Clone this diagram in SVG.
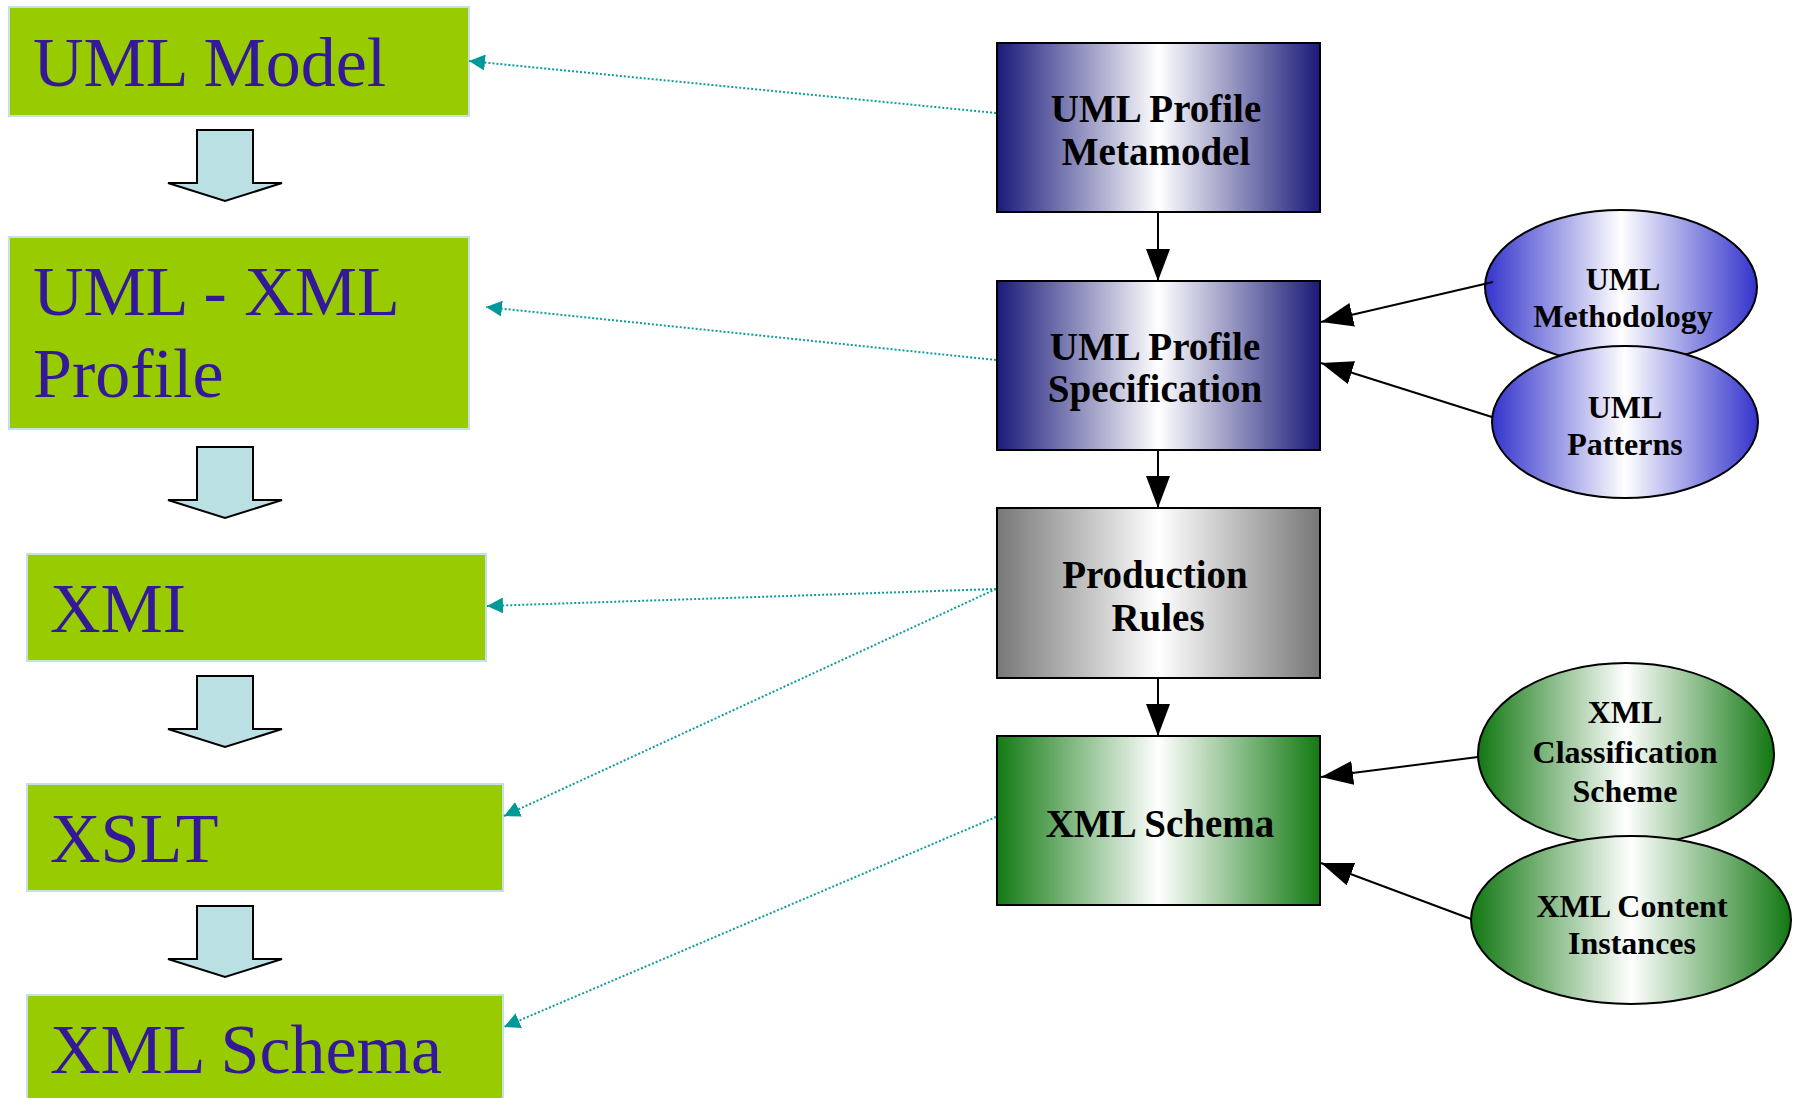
<svg xmlns="http://www.w3.org/2000/svg" width="1794" height="1098" viewBox="0 0 1794 1098">
<style>
  .lbox { fill: #99cc00; stroke: #c2e2e8; stroke-width: 2; }
  .ltxt { font-family: "Liberation Serif", "Times New Roman", serif; font-size: 70px; fill: #33199a; }
  .blk { fill: #bbe0e3; stroke: #000; stroke-width: 2; stroke-linejoin: miter; }
  .rbox { stroke: #000; stroke-width: 2; }
  .ell { stroke: #000; stroke-width: 2; }
  .btxt { font-family: "Liberation Serif", "Times New Roman", serif; font-weight: bold; font-size: 39px; fill: #000; text-anchor: middle; }
  .etxt { font-family: "Liberation Serif", "Times New Roman", serif; font-weight: bold; font-size: 32px; fill: #000; text-anchor: middle; }
  .solid { stroke: #000; stroke-width: 2; fill: none; marker-end: url(#ah); }
  .dot { stroke: #0f9c9c; stroke-width: 2; stroke-dasharray: 2 2; fill: none; marker-end: url(#th); }
</style>
<defs>
  <linearGradient id="gBlue" x1="0" y1="0" x2="1" y2="0">
    <stop offset="0" stop-color="#1a1a7a"/>
    <stop offset="0.5" stop-color="#ffffff"/>
    <stop offset="1" stop-color="#1a1a7a"/>
  </linearGradient>
  <linearGradient id="gGrey" x1="0" y1="0" x2="1" y2="0">
    <stop offset="0" stop-color="#777777"/>
    <stop offset="0.5" stop-color="#ffffff"/>
    <stop offset="1" stop-color="#777777"/>
  </linearGradient>
  <linearGradient id="gGreen" x1="0" y1="0" x2="1" y2="0">
    <stop offset="0" stop-color="#137a13"/>
    <stop offset="0.5" stop-color="#ffffff"/>
    <stop offset="1" stop-color="#137a13"/>
  </linearGradient>
  <linearGradient id="gEBlue" x1="0" y1="0" x2="1" y2="0">
    <stop offset="0" stop-color="#3333cc"/>
    <stop offset="0.5" stop-color="#ffffff"/>
    <stop offset="1" stop-color="#3333cc"/>
  </linearGradient>
  <linearGradient id="gEGreen" x1="0" y1="0" x2="1" y2="0">
    <stop offset="0" stop-color="#117711"/>
    <stop offset="0.5" stop-color="#ffffff"/>
    <stop offset="1" stop-color="#117711"/>
  </linearGradient>
  <marker id="ah" viewBox="0 0 32 24" refX="32" refY="12" markerWidth="32" markerHeight="24" markerUnits="userSpaceOnUse" orient="auto">
    <path d="M0,0 L32,12 L0,24 Z" fill="#000"/>
  </marker>
  <marker id="th" viewBox="0 0 16 16" refX="16" refY="8" markerWidth="16" markerHeight="16" markerUnits="userSpaceOnUse" orient="auto">
    <path d="M0,0 L16,8 L0,16 Z" fill="#009999"/>
  </marker>
</defs>
<rect width="1794" height="1098" fill="#ffffff"/>

<g id="umlModel">
  <rect class="lbox" x="9" y="7" width="460" height="109"/>
  <text class="ltxt" x="33" y="86">UML Model</text>
</g>
<g id="umlXmlProfile">
  <rect class="lbox" x="9" y="237" width="460" height="192"/>
  <text class="ltxt" x="33" y="315">UML - XML</text>
  <text class="ltxt" x="33" y="397">Profile</text>
</g>
<g id="xmi">
  <rect class="lbox" x="27" y="554" width="459" height="107"/>
  <text class="ltxt" x="50" y="632">XMI</text>
</g>
<g id="xslt">
  <rect class="lbox" x="27" y="784" width="476" height="107"/>
  <text class="ltxt" x="50" y="862">XSLT</text>
</g>
<g id="xmlSchemaLeft">
  <rect class="lbox" x="27" y="995" width="476" height="120"/>
  <text class="ltxt" x="50" y="1073">XML Schema</text>
</g>

<g id="blockArrows">
  <polygon class="blk" points="197,130 253,130 253,183 282,183 225,201 168,183 197,183"/>
  <polygon class="blk" points="197,447 253,447 253,500 282,500 225,518 168,500 197,500"/>
  <polygon class="blk" points="197,676 253,676 253,729 282,729 225,747 168,729 197,729"/>
  <polygon class="blk" points="197,906 253,906 253,959 282,959 225,977 168,959 197,959"/>
</g>

<g id="metamodel">
  <rect class="rbox" x="997" y="43" width="323" height="169" fill="url(#gBlue)"/>
  <text class="btxt" x="1156" y="122">UML Profile</text>
  <text class="btxt" x="1156" y="165">Metamodel</text>
</g>
<g id="specification">
  <rect class="rbox" x="997" y="281" width="323" height="169" fill="url(#gBlue)"/>
  <text class="btxt" x="1155" y="360">UML Profile</text>
  <text class="btxt" x="1155" y="402">Specification</text>
</g>
<g id="productionRules">
  <rect class="rbox" x="997" y="508" width="323" height="170" fill="url(#gGrey)"/>
  <text class="btxt" x="1155" y="588">Production</text>
  <text class="btxt" x="1158" y="631">Rules</text>
</g>
<g id="xmlSchemaRight">
  <rect class="rbox" x="997" y="736" width="323" height="169" fill="url(#gGreen)"/>
  <text class="btxt" x="1160" y="837">XML Schema</text>
</g>

<g id="methodology">
  <ellipse class="ell" cx="1621" cy="287" rx="136" ry="77" fill="url(#gEBlue)"/>
  <text class="etxt" x="1623" y="290">UML</text>
  <text class="etxt" x="1623" y="327">Methodology</text>
</g>
<g id="patterns">
  <ellipse class="ell" cx="1625" cy="422" rx="133" ry="76" fill="url(#gEBlue)"/>
  <text class="etxt" x="1625" y="418">UML</text>
  <text class="etxt" x="1625" y="455">Patterns</text>
</g>
<g id="classification">
  <ellipse class="ell" cx="1626" cy="754" rx="148" ry="91" fill="url(#gEGreen)"/>
  <text class="etxt" x="1625" y="723">XML</text>
  <text class="etxt" x="1625" y="763">Classification</text>
  <text class="etxt" x="1625" y="802">Scheme</text>
</g>
<g id="contentInstances">
  <ellipse class="ell" cx="1631" cy="920" rx="160" ry="84" fill="url(#gEGreen)"/>
  <text class="etxt" x="1632" y="917">XML Content</text>
  <text class="etxt" x="1632" y="954">Instances</text>
</g>

<g id="connectors">
  <line class="solid" x1="1158" y1="212" x2="1158" y2="281"/>
  <line class="solid" x1="1158" y1="450" x2="1158" y2="508"/>
  <line class="solid" x1="1158" y1="678" x2="1158" y2="736"/>
  <line class="solid" x1="1493" y1="282" x2="1321" y2="322"/>
  <line class="solid" x1="1492" y1="417" x2="1321" y2="363"/>
  <line class="solid" x1="1478" y1="757" x2="1321" y2="777"/>
  <line class="solid" x1="1471" y1="919" x2="1321" y2="863"/>
  <line class="dot" x1="996" y1="113" x2="469" y2="61"/>
  <line class="dot" x1="996" y1="360" x2="486" y2="307"/>
  <line class="dot" x1="996" y1="589" x2="487" y2="606"/>
  <line class="dot" x1="996" y1="589" x2="504" y2="816"/>
  <line class="dot" x1="996" y1="817" x2="504" y2="1027"/>
</g>
</svg>
